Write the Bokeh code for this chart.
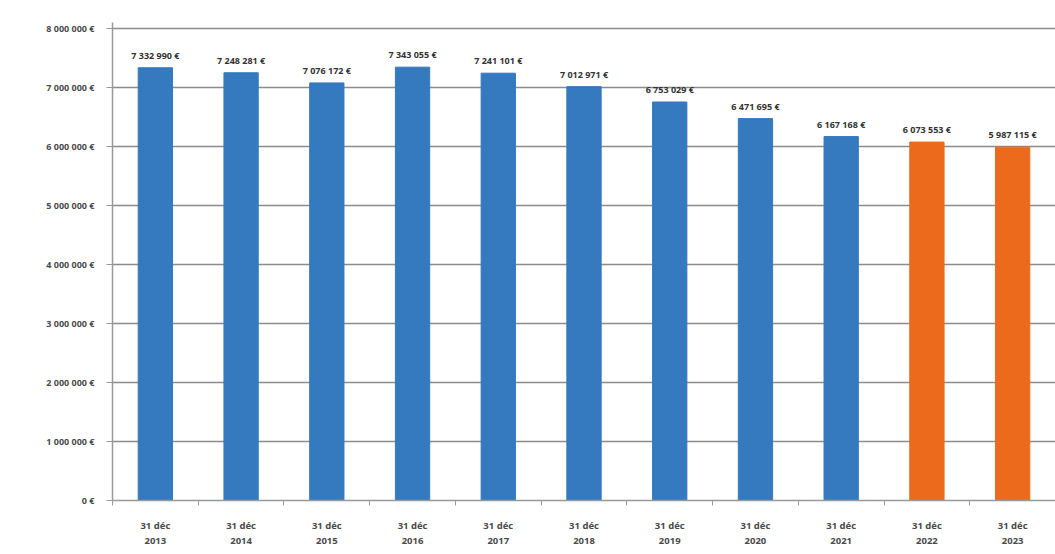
from bokeh.plotting import figure
from bokeh.models import ColumnDataSource, FixedTicker, Range1d
from bokeh.core.properties import value
from bokeh.embed import file_html
from bokeh.resources import INLINE

categories = ["31 déc\n2013", "31 déc\n2014", "31 déc\n2015", "31 déc\n2016", "31 déc\n2017",
              "31 déc\n2018", "31 déc\n2019", "31 déc\n2020", "31 déc\n2021", "31 déc\n2022", "31 déc\n2023"]
amounts = [7332990, 7248281, 7076172, 7343055, 7241101, 7012971, 6753029, 6471695, 6167168, 6073553, 5987115]
bar_colors = ["#3579BE"] * 9 + ["#EC6A1C"] * 2
y_ticks = [0, 1000000, 2000000, 3000000, 4000000, 5000000, 6000000, 7000000, 8000000]
y_tick_labels = ["0 €", "1 000 000 €", "2 000 000 €", "3 000 000 €", "4 000 000 €",
                 "5 000 000 €", "6 000 000 €", "7 000 000 €", "8 000 000 €"]


def fmt(v):
    return "{:,}".format(v).replace(",", " ") + " €"


labels = [fmt(v) for v in amounts]
xpos = [i + 0.5 for i in range(len(categories))]

src = ColumnDataSource(dict(x=xpos, amt=amounts, col=bar_colors, lab=labels))

p = figure(x_range=Range1d(0, len(categories)), y_range=Range1d(0, 8100000), width=1055, height=554,
           output_backend="svg", toolbar_location=None,
           min_border_left=112, min_border_right=0, min_border_top=22, min_border_bottom=54)
p.outline_line_color = None
p.background_fill_color = "white"
p.border_fill_color = "white"

p.vbar(x="x", top="amt", width=0.4, color="col", source=src)
p.text(x="x", y="amt", text="lab", source=src, text_align="center", text_baseline="bottom",
       y_offset=-6, text_font=value("Open Sans"), text_font_size="9px", text_font_style="bold",
       text_color="#333333")

p.yaxis.ticker = FixedTicker(ticks=y_ticks)
p.yaxis.major_label_overrides = {t: l for t, l in zip(y_ticks, y_tick_labels)}
p.yaxis.major_label_text_font = "Open Sans"
p.yaxis.major_label_text_font_size = "9px"
p.yaxis.major_label_text_font_style = "bold"
p.yaxis.major_label_text_color = "#4a4a4a"
p.yaxis.axis_line_color = "#999999"
p.yaxis.axis_line_width = 1.5
p.yaxis.major_tick_line_color = "#999999"
p.yaxis.major_tick_in = 0
p.yaxis.major_tick_out = 6
p.yaxis.minor_tick_line_color = None
p.yaxis.major_label_standoff = 12

p.xaxis.ticker = FixedTicker(ticks=xpos, minor_ticks=list(range(len(categories) + 1)))
p.xaxis.major_label_overrides = {x: c for x, c in zip(xpos, categories)}
p.xaxis.major_label_text_font = "Open Sans"
p.xaxis.major_label_text_font_size = "9.5px"
p.xaxis.major_label_text_font_style = "bold"
p.xaxis.major_label_text_color = "#4a4a4a"
p.xaxis.axis_line_color = "#999999"
p.xaxis.axis_line_width = 1.5
p.xaxis.major_tick_line_color = None
p.xaxis.minor_tick_line_color = "#999999"
p.xaxis.minor_tick_in = 0
p.xaxis.minor_tick_out = 5
p.xaxis.major_label_standoff = 12

p.xgrid.grid_line_color = None
p.ygrid.grid_line_color = "#8c8c8c"
p.ygrid.grid_line_width = 1.5

open("out.html", "w").write(file_html(p, INLINE))
